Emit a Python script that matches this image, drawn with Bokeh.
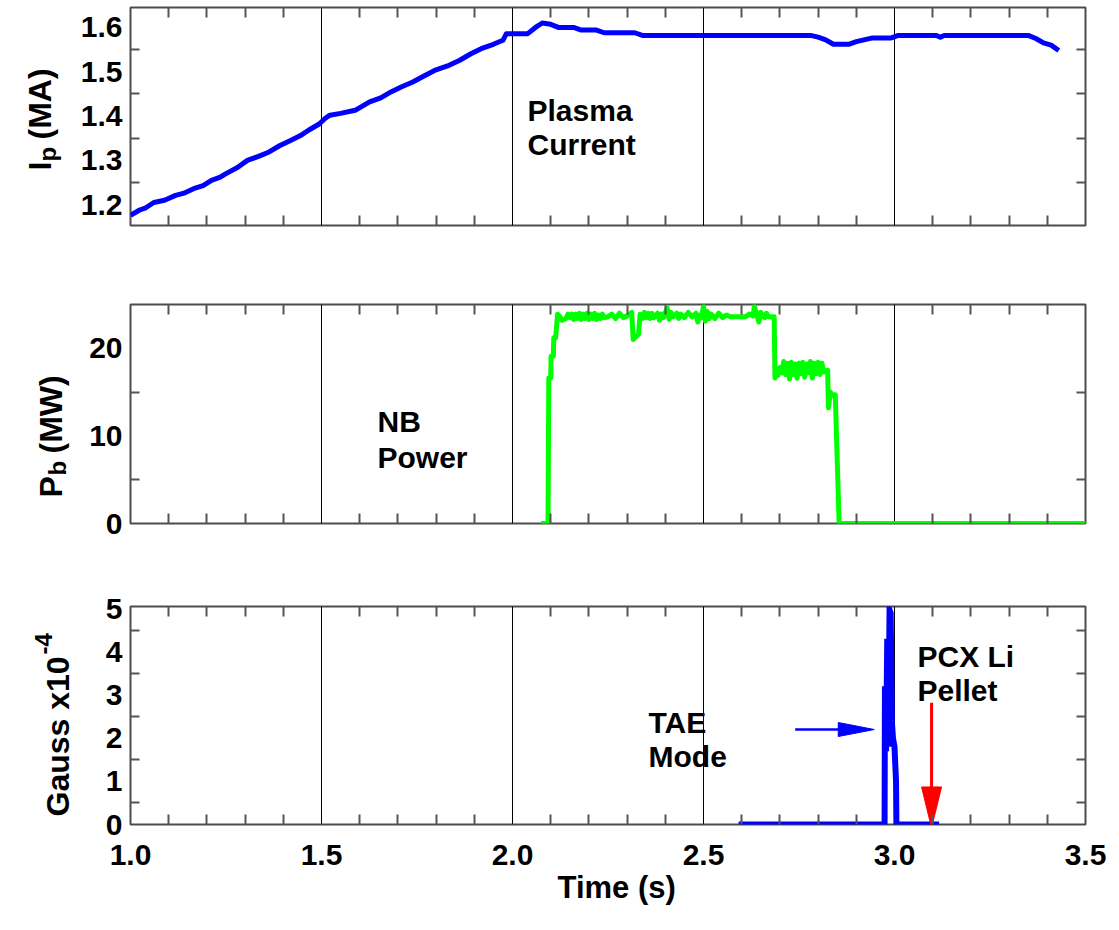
import math
from bokeh.plotting import figure
from bokeh.models import FixedTicker, LinearAxis, Label, Range1d, Grid, CustomJSTickFormatter, Title
from bokeh.layouts import column, row
from bokeh.embed import file_html
from bokeh.resources import INLINE

FONT = "Liberation Sans"

# ---------------- data ----------------
t_ip = [1.000, 1.024, 1.040, 1.061, 1.089, 1.118, 1.140, 1.165, 1.190, 1.212, 1.235, 1.250,
        1.280, 1.306, 1.335, 1.363, 1.390, 1.419, 1.445, 1.466, 1.494, 1.510, 1.522, 1.550,
        1.588, 1.626, 1.655, 1.683, 1.710, 1.739, 1.767, 1.796, 1.830, 1.862, 1.890, 1.918,
        1.950, 1.975, 1.984, 2.040, 2.060, 2.078, 2.100, 2.120, 2.160, 2.180, 2.220, 2.240,
        2.320, 2.340, 2.780, 2.800, 2.820, 2.840, 2.880, 2.900, 2.920, 2.940, 2.990, 3.010,
        3.110, 3.120, 3.130, 3.350, 3.370, 3.390, 3.410, 3.430]
ip_ma = [1.176, 1.188, 1.193, 1.205, 1.210, 1.221, 1.226, 1.236, 1.243, 1.255, 1.262, 1.270,
         1.284, 1.300, 1.309, 1.319, 1.333, 1.345, 1.356, 1.368, 1.382, 1.395, 1.402, 1.406,
         1.413, 1.432, 1.441, 1.455, 1.466, 1.477, 1.490, 1.503, 1.513, 1.526, 1.540, 1.552,
         1.562, 1.571, 1.586, 1.586, 1.600, 1.610, 1.607, 1.600, 1.600, 1.594, 1.594, 1.588,
         1.588, 1.582, 1.582, 1.578, 1.572, 1.562, 1.562, 1.568, 1.572, 1.576, 1.576, 1.582,
         1.582, 1.578, 1.582, 1.582, 1.575, 1.565, 1.560, 1.548]

t_nb = [2.075, 2.093, 2.095, 2.100, 2.101, 2.107, 2.108, 2.113, 2.118, 2.124, 2.130, 2.140,
        2.145, 2.150, 2.155, 2.160, 2.165, 2.170, 2.175, 2.180, 2.185, 2.190, 2.195, 2.200,
        2.205, 2.210, 2.215, 2.220, 2.225, 2.230, 2.235, 2.240, 2.250, 2.260, 2.270, 2.280,
        2.290, 2.300, 2.312, 2.316, 2.330, 2.334, 2.340, 2.345, 2.350, 2.355, 2.360, 2.365,
        2.370, 2.380, 2.385, 2.390, 2.395, 2.405, 2.410, 2.415, 2.420, 2.430, 2.435, 2.440,
        2.450, 2.460, 2.470, 2.480, 2.485, 2.490, 2.495, 2.500, 2.505, 2.510, 2.515, 2.520,
        2.530, 2.540, 2.550, 2.560, 2.570, 2.610, 2.620, 2.630, 2.633, 2.640, 2.645, 2.650,
        2.660, 2.665, 2.670, 2.685, 2.687, 2.690, 2.695, 2.700, 2.705, 2.710, 2.715, 2.720,
        2.725, 2.730, 2.735, 2.740, 2.745, 2.750, 2.755, 2.760, 2.765, 2.770, 2.775, 2.780,
        2.785, 2.790, 2.795, 2.800, 2.805, 2.810, 2.815, 2.825, 2.827, 2.832, 2.838, 2.845,
        2.855, 3.500]
p_nb = [0.0, 0.0, 16.6, 16.6, 19.1, 19.1, 21.2, 21.2, 23.9, 23.6, 23.2, 23.4,
        23.9, 23.5, 23.9, 23.3, 23.9, 23.4, 24.0, 23.3, 23.9, 23.4, 24.0, 23.3,
        23.9, 23.4, 24.0, 23.3, 23.8, 23.4, 23.9, 23.5, 23.6, 23.9, 23.4, 24.0,
        23.5, 23.7, 24.1, 21.0, 21.6, 23.9, 23.4, 24.1, 23.5, 24.0, 23.4, 24.0,
        23.5, 24.0, 23.2, 23.9, 23.5, 24.6, 23.3, 24.1, 23.6, 24.0, 23.4, 23.9,
        23.5, 24.1, 23.6, 24.0, 23.0, 23.8, 23.5, 24.8, 23.1, 24.2, 23.4, 23.9,
        23.4, 24.0, 23.5, 23.8, 23.6, 23.6, 23.9, 23.7, 24.8, 23.8, 23.0, 24.1,
        23.5, 24.0, 23.6, 23.6, 16.6, 17.6, 16.9, 17.8, 17.2, 18.5, 17.0, 18.3,
        16.5, 18.4, 17.0, 18.2, 16.6, 18.3, 17.1, 18.4, 16.7, 18.2, 17.2, 18.5,
        16.6, 18.3, 17.1, 18.4, 17.0, 18.3, 17.3, 17.5, 13.2, 15.0, 14.6, 14.7,
        0.0, 0.0]

t_tae = [2.592, 2.974, 2.975, 2.978, 2.981, 2.984, 2.987, 2.990, 2.993, 2.996, 3.000, 3.004,
         3.005, 3.117]
b_tae = [0.0, 0.0, 3.2, 1.7, 4.3, 1.8, 4.97, 4.9, 2.4, 2.0, 1.8, 1.0,
         0.0, 0.0]

x_major = [1.0, 1.5, 2.0, 2.5, 3.0, 3.5]
x_minor = [1.1, 1.2, 1.3, 1.4, 1.6, 1.7, 1.8, 1.9, 2.1, 2.2, 2.3, 2.4,
           2.6, 2.7, 2.8, 2.9, 3.1, 3.2, 3.3, 3.4]
x_labels = ["1.0", "1.5", "2.0", "2.5", "3.0", "3.5"]
x_grid = [1.5, 2.0, 2.5, 3.0]

ip_ticks = [1.2, 1.3, 1.4, 1.5, 1.6]
ip_minor = [1.25, 1.35, 1.45, 1.55]
ip_labels = ["1.2", "1.3", "1.4", "1.5", "1.6"]
nb_ticks = [0, 10, 20]
nb_minor = [5, 15]
nb_labels = ["0", "10", "20"]
tae_ticks = [0, 1, 2, 3, 4, 5]
tae_minor = [0.5, 1.5, 2.5, 3.5, 4.5]
tae_labels = ["0", "1", "2", "3", "4", "5"]

# annotation anchors (data units)
tae_arrow = dict(x0=2.74, x1=2.947, y=2.2)
pellet_arrow = dict(x=3.097, y0=2.82, y1=-0.08)

# ---------------- layout ----------------
W = 1119
H = 930
LW = 76                      # left strip holding the rotated axis titles
LEFT = 130                   # canvas x of the frame's left edge
FRAME_W = 955
PW = W - LW
RIGHT = PW - (LEFT - LW) - FRAME_W
X0, X1 = 1.0, 3.5
TICK_C = "#555555"
TFS = "30px"


def blank_fmt():
    return CustomJSTickFormatter(code="return ''")


def panel(height, top, bottom, yr, yticks, yminor, ylabels, show_x):
    p = figure(width=PW, height=height, x_range=Range1d(X0, X1), y_range=Range1d(*yr),
               output_backend="svg", toolbar_location=None,
               min_border_left=LEFT - LW, min_border_right=RIGHT,
               min_border_top=top, min_border_bottom=bottom,
               x_axis_location=None, y_axis_location=None)
    p.outline_line_color = "#4d4d4d"
    p.outline_line_width = 2
    p.background_fill_color = "white"
    p.border_fill_color = "white"
    p.xgrid.visible = False
    p.ygrid.visible = False

    for loc in ("below", "above"):
        ax = LinearAxis(ticker=FixedTicker(ticks=x_major, minor_ticks=x_minor))
        ax.axis_line_color = None
        ax.major_tick_in = 0
        ax.major_tick_out = 0
        ax.minor_tick_in = 10
        ax.minor_tick_out = 0
        ax.minor_tick_line_color = TICK_C
        ax.minor_tick_line_width = 2
        if loc == "below" and show_x:
            ax.major_label_overrides = {v: s for v, s in zip(x_major, x_labels)}
            ax.major_label_text_font = FONT
            ax.major_label_text_font_style = "bold"
            ax.major_label_text_font_size = TFS
            ax.major_label_text_color = "black"
            ax.major_label_standoff = 20
        else:
            ax.formatter = blank_fmt()
            ax.major_label_standoff = 0
            ax.major_label_text_font_size = "1px"
        p.add_layout(ax, loc)

    for loc in ("left", "right"):
        ax = LinearAxis(ticker=FixedTicker(ticks=yticks, minor_ticks=yminor))
        ax.axis_line_color = None
        ax.major_tick_in = 0
        ax.major_tick_out = 0
        ax.minor_tick_in = 9
        ax.minor_tick_out = 0
        ax.minor_tick_line_color = TICK_C
        ax.minor_tick_line_width = 2
        if loc == "left":
            ax.major_label_overrides = {v: s for v, s in zip(yticks, ylabels)}
            ax.major_label_text_font = FONT
            ax.major_label_text_font_style = "bold"
            ax.major_label_text_font_size = TFS
            ax.major_label_text_color = "black"
            ax.major_label_standoff = 8
        else:
            ax.formatter = blank_fmt()
            ax.major_label_standoff = 0
            ax.major_label_text_font_size = "1px"
        p.add_layout(ax, loc)

    p.add_layout(Grid(dimension=0, ticker=FixedTicker(ticks=x_grid),
                      grid_line_color="black", grid_line_width=1))
    return p


def lab(p, x, y, text, size=30, **kw):
    p.add_layout(Label(x=x, y=y, text=text, text_font=FONT, text_font_style="bold",
                       text_font_size=f"{size}px", text_color="black", **kw))


def ydata(cy, frame_top, frame_h, yr):
    return yr[0] + (frame_top + frame_h - cy) / frame_h * (yr[1] - yr[0])


def xdata(cx):
    return X0 + (cx - LEFT) / FRAME_W * (X1 - X0)


# panel geometry (canvas px)
P1 = dict(top=7, h=218, bottom=40)
P2 = dict(top=39, h=219, bottom=40)
P3 = dict(top=43, h=218, bottom=106)
ip_range = (1.153, 1.645)
nb_range = (0.0, 25.0)
tae_range = (0.0, 5.05)

# ---------------- panel 1 ----------------
p1 = panel(P1["top"] + P1["h"] + P1["bottom"], P1["top"], P1["bottom"], ip_range,
           ip_ticks, ip_minor, ip_labels, False)
p1.line(t_ip, ip_ma, line_color="#0000ff", line_width=5, line_join="round")
y1 = lambda cy: ydata(cy, 7, 218, ip_range)
lab(p1, xdata(527), y1(126), "Plasma")
lab(p1, xdata(527), y1(160), "Current")

# ---------------- panel 2 ----------------
o2 = P1["top"] + P1["h"] + P1["bottom"]
p2 = panel(P2["top"] + P2["h"] + P2["bottom"], P2["top"], P2["bottom"], nb_range,
           nb_ticks, nb_minor, nb_labels, False)
p2.line(t_nb, p_nb, line_color="#00ff00", line_width=5, line_join="round")
y2 = lambda cy: ydata(cy, o2 + P2["top"], P2["h"], nb_range)
lab(p2, xdata(377), y2(437), "NB")
lab(p2, xdata(377), y2(473), "Power")

# ---------------- panel 3 ----------------
o3 = o2 + P2["top"] + P2["h"] + P2["bottom"]
h3 = P3["top"] + P3["h"] + P3["bottom"]
p3 = panel(h3, P3["top"], P3["bottom"], tae_range,
           tae_ticks, tae_minor, tae_labels, True)
p3.line(t_tae, b_tae, line_color="#0000ff", line_width=6, line_join="miter")
y3 = lambda cy: ydata(cy, o3 + P3["top"], P3["h"], tae_range)
lab(p3, xdata(648), y3(738), "TAE")
lab(p3, xdata(648), y3(772), "Mode")
lab(p3, xdata(917), y3(672), "PCX Li")
lab(p3, xdata(917), y3(706), "Pellet")

# x-axis title as a below-title, shifted so it is centred near t = 2.29
p3.add_layout(Title(text="Time (s)", align="left", offset=427, standoff=0,
                    text_font=FONT, text_font_style="bold", text_font_size="31px",
                    text_color="black"), "below")

# arrows (head size given in px, converted to data units)
px_x = (X1 - X0) / FRAME_W
px_y = (tae_range[1] - tae_range[0]) / P3["h"]
hl, hw = 36 * px_x, 7 * px_y
bx = tae_arrow["x1"] - hl
p3.line([tae_arrow["x0"], bx + 2 * px_x], [tae_arrow["y"], tae_arrow["y"]],
        line_color="#0000ff", line_width=2.5)
p3.patch([bx, tae_arrow["x1"], bx], [tae_arrow["y"] + hw, tae_arrow["y"], tae_arrow["y"] - hw],
         fill_color="#0000ff", line_color="#0000ff", line_width=1)
hl2, hw2 = 41 * px_y, 10 * px_x
by = pellet_arrow["y1"] + hl2
p3.line([pellet_arrow["x"], pellet_arrow["x"]], [pellet_arrow["y0"], by - 2 * px_y],
        line_color="#ff0000", line_width=3)
p3.patch([pellet_arrow["x"] - hw2, pellet_arrow["x"], pellet_arrow["x"] + hw2],
         [by, pellet_arrow["y1"], by],
         fill_color="#ff0000", line_color="#ff0000", line_width=1)

# ---------------- left strip: rotated y-axis titles ----------------
lf = figure(width=LW, height=H, x_range=Range1d(0, LW), y_range=Range1d(H, 0),
            output_backend="svg", toolbar_location=None, min_border=0,
            x_axis_location=None, y_axis_location=None)   # data units == canvas px
lf.outline_line_color = None
lf.xgrid.visible = False
lf.ygrid.visible = False
vk = dict(angle=math.pi / 2, text_align="left", text_baseline="alphabetic")
lab(lf, 39, 170, "I", 32, **vk)
lab(lf, 47, 161, "p", 24, **vk)
lab(lf, 39, 139, "(MA)", 32, **vk)
lab(lf, 50, 497, "P", 32, **vk)
lab(lf, 57, 475, "b", 24, **vk)
lab(lf, 50, 453, "(MW)", 32, **vk)
lab(lf, 57, 816, "Gauss x10", 32, **vk)
lab(lf, 43, 654, "-4", 24, **vk)

layout = row(lf, column(p1, p2, p3, spacing=0), spacing=0)
open("out.html", "w").write(file_html(layout, INLINE))
